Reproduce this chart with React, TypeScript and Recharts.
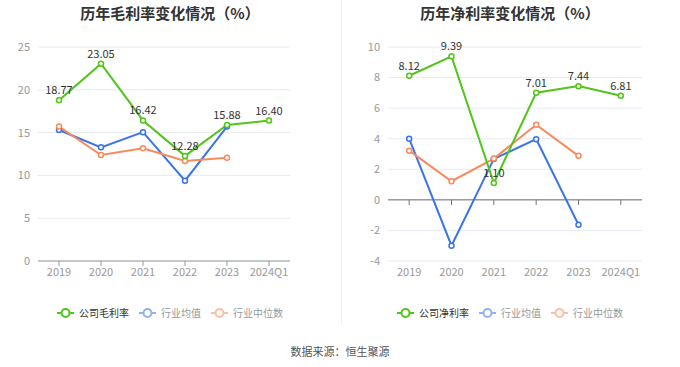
import React from 'react'
import { LineChart, Line, XAxis, YAxis, CartesianGrid, LabelList, ReferenceLine } from 'recharts'

const years = ['2019', '2020', '2021', '2022', '2023', '2024Q1']

const grossCompany = [18.77, 23.05, 16.42, 12.28, 15.88, 16.4]
const grossAvg = [15.3, 13.28, 15.05, 9.38, 15.7, null]
const grossMedian = [15.7, 12.38, 13.16, 11.68, 12.07, null]

const netCompany = [8.12, 9.39, 1.1, 7.01, 7.44, 6.81]
const netAvg = [4.0, -3.0, 2.68, 3.97, -1.63, null]
const netMedian = [3.22, 1.22, 2.7, 4.92, 2.88, null]

const grossTicks = [0, 5, 10, 15, 20, 25]
const netTicks = [-4, -2, 0, 2, 4, 6, 8, 10]

const GREEN = '#52c41a'
const BLUE = '#3a74e8'
const ORANGE = '#f98a5e'
const FONT = "'Noto Sans CJK SC', 'Noto Sans', sans-serif"

const grossData = years.map((y, i) => ({ year: y, company: grossCompany[i], avg: grossAvg[i], median: grossMedian[i] }))
const netData = years.map((y, i) => ({ year: y, company: netCompany[i], avg: netAvg[i], median: netMedian[i] }))

const tick = { fill: '#999', fontSize: 11, fontFamily: FONT }

function LegendRow({ first }: { first: string }) {
  const items = [
    { name: first, color: GREEN, text: '#333', opacity: 1 },
    { name: '行业均值', color: BLUE, text: '#999', opacity: 0.55 },
    { name: '行业中位数', color: ORANGE, text: '#999', opacity: 0.55 },
  ]
  return (
    <div style={{ display: 'flex', justifyContent: 'center', gap: 10, fontSize: 10, fontFamily: FONT }}>
      {items.map((it) => (
        <div key={it.name} style={{ display: 'flex', alignItems: 'center', gap: 5 }}>
          <svg width={17} height={12} style={{ opacity: it.opacity }}>
            <line x1={0} y1={6} x2={17} y2={6} stroke={it.color} strokeWidth={2} />
            <circle cx={8.5} cy={6} r={4} fill="#fff" stroke={it.color} strokeWidth={2} />
          </svg>
          <span style={{ color: it.text }}>{it.name}</span>
        </div>
      ))}
    </div>
  )
}

function Panel({
  title,
  data,
  ticks,
  domain,
  first,
  zeroLine,
  left,
  right,
}: {
  title: string
  data: any[]
  ticks: number[]
  domain: [number, number]
  first: string
  zeroLine?: boolean
  left: number
  right: number
}) {
  const dot = (color: string) => ({ r: 2.5, fill: '#fff', stroke: color, strokeWidth: 1.5 })
  // small tick length below the zero line, in data units
  const tickLen = (domain[1] - domain[0]) / 42
  return (
    <div style={{ position: 'relative', width: 340, height: 367 }}>
      <div
        style={{
          position: 'absolute',
          top: 2,
          width: 340,
          textAlign: 'center',
          fontSize: 15,
          fontWeight: 'bold',
          color: '#333',
          fontFamily: FONT,
        }}
      >
        {title}
      </div>
      <div style={{ position: 'absolute', top: 0, left: 0 }}>
        <LineChart width={340} height={300} data={data} margin={{ top: 47, right, bottom: 9, left }}>
          <CartesianGrid vertical={false} stroke="#e6eaf4" />
          <XAxis
            dataKey="year"
            scale="band"
            tick={tick}
            axisLine={zeroLine ? false : { stroke: '#999' }}
            tickLine={zeroLine ? false : { stroke: '#999' }}
            tickSize={5}
            interval={0}
          />
          <YAxis
            domain={domain}
            ticks={ticks}
            tick={tick}
            axisLine={false}
            tickLine={false}
            width={38}
            interval={0}
          />
          {zeroLine && <ReferenceLine y={0} stroke="#6e7079" />}
          {zeroLine &&
            years.map((y) => (
              <ReferenceLine
                key={y}
                segment={[
                  { x: y, y: 0 },
                  { x: y, y: -tickLen },
                ]}
                stroke="#6e7079"
              />
            ))}
          <Line
            dataKey="avg"
            stroke={BLUE}
            strokeWidth={2}
            dot={dot(BLUE)}
            activeDot={false}
            isAnimationActive={false}
          />
          <Line
            dataKey="median"
            stroke={ORANGE}
            strokeWidth={2}
            dot={dot(ORANGE)}
            activeDot={false}
            isAnimationActive={false}
          />
          <Line
            dataKey="company"
            stroke={GREEN}
            strokeWidth={2}
            dot={dot(GREEN)}
            activeDot={false}
            isAnimationActive={false}
          >
            <LabelList
              dataKey="company"
              position="top"
              offset={6}
              formatter={(v: any) => Number(v).toFixed(2)}
              style={{ fill: '#333', fontSize: 11, fontFamily: FONT }}
            />
          </Line>
        </LineChart>
      </div>
      <div style={{ position: 'absolute', top: 305, width: 340 }}>
        <LegendRow first={first} />
      </div>
    </div>
  )
}

export default function App() {
  return (
    <div style={{ position: 'absolute', left: 0, top: 0, width: 680, height: 367, background: '#fff' }}>
      <div style={{ display: 'flex' }}>
        <Panel
          title="历年毛利率变化情况（%）"
          data={grossData}
          ticks={grossTicks}
          domain={[0, 25]}
          first="公司毛利率"
          left={0}
          right={50}
        />
        <Panel
          title="历年净利率变化情况（%）"
          data={netData}
          ticks={netTicks}
          domain={[-4, 10]}
          first="公司净利率"
          zeroLine
          left={10}
          right={38}
        />
      </div>
      <div style={{ position: 'absolute', left: 341, top: 0, width: 1, height: 325, background: '#f0f0f0' }} />
      <div
        style={{
          position: 'absolute',
          top: 343,
          width: 680,
          textAlign: 'center',
          fontSize: 11,
          color: '#555',
          fontFamily: FONT,
        }}
      >
        数据来源：恒生聚源
      </div>
    </div>
  )
}
